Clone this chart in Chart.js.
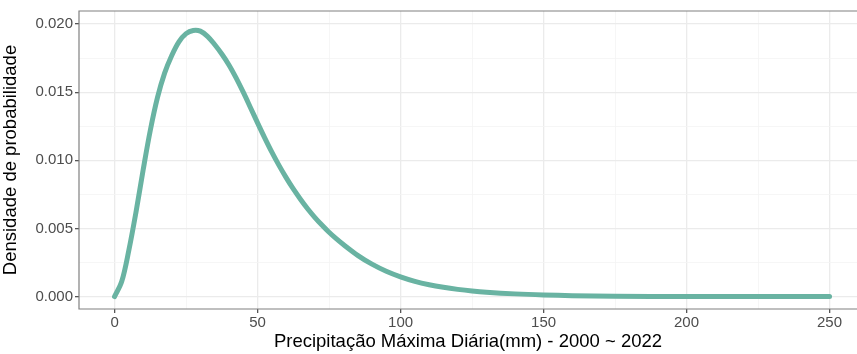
<!DOCTYPE html>
<html>
<head>
<meta charset="utf-8">
<script src="https://cdn.jsdelivr.net/npm/chart.js@4.4.0/dist/chart.umd.min.js"></script>
<style>
  html, body { margin: 0; padding: 0; background: #fff; }
  #wrap { width: 857px; height: 354px; }
</style>
</head>
<body>
<div id="wrap"><canvas id="densityChart"></canvas></div>
<script>
// precipitation (mm) and density
const precip = [0, 2.5, 5, 7.5, 10, 12.5, 15, 17.5, 20, 22.5, 25, 27.5, 30, 32.5, 35, 37.5, 40, 42.5, 45, 47.5,
  50, 52.5, 55, 57.5, 60, 62.5, 65, 67.5, 70, 72.5, 75, 77.5, 80, 85, 90, 95,
  100, 105, 110, 115, 120, 125, 130, 140, 150, 160, 175, 200, 225, 250];
const density = [0, 0.0011, 0.0034, 0.0062, 0.0093, 0.0122, 0.0146, 0.0164, 0.0177, 0.0187, 0.0193, 0.01953, 0.01948, 0.0191, 0.0185, 0.0178, 0.0170, 0.01605, 0.0150, 0.01388,
  0.01275, 0.01165, 0.0106, 0.00963, 0.00873, 0.0079, 0.00715, 0.00645, 0.00582, 0.00525, 0.00472, 0.00425, 0.00382, 0.00303, 0.00238, 0.00186,
  0.00145, 0.00112, 0.00087, 0.00068, 0.00053, 0.00041, 0.00032, 0.0002, 0.00012, 0.00007, 0.00003, 0.000005, 0.000001, 0];

const xTicks = [0, 50, 100, 150, 200, 250];
const xTickLabels = ["0", "50", "100", "150", "200", "250"];
const xMinor = [25, 75, 125, 175, 225];
const yTicks = [0, 0.005, 0.010, 0.015, 0.020];
const yTickLabels = ["0.000", "0.005", "0.010", "0.015", "0.020"];
const yMinor = [0.0025, 0.0075, 0.0125, 0.0175];

const xTitle = "Precipitação Máxima Diária(mm) - 2000 ~ 2022";
const yTitle = "Densidade de probabilidade";

const points = precip.map((x, i) => ({ x: x, y: density[i] }));

const isMajor = (list, v) => list.some(t => Math.abs(t - v) < 1e-9);

function gridColor(list) {
  return ctx => ctx.tick && isMajor(list, ctx.tick.value) ? "#ebebeb" : "#f4f4f4";
}
function gridWidth(list) {
  return ctx => ctx.tick && isMajor(list, ctx.tick.value) ? 1.3 : 0.8;
}
function tickColor(list) {
  return ctx => ctx.tick && isMajor(list, ctx.tick.value) ? "#555" : "rgba(0,0,0,0)";
}

// panel border like ggplot theme_bw (right edge is cut off in the picture)
const panelBorder = {
  id: "panelBorder",
  afterDraw(chart) {
    const a = chart.chartArea;
    const c = chart.ctx;
    c.save();
    c.strokeStyle = "#808080";
    c.lineWidth = 1.2;
    c.beginPath();
    c.moveTo(chart.width + 2, a.top);
    c.lineTo(a.left, a.top);
    c.lineTo(a.left, a.bottom);
    c.lineTo(chart.width + 2, a.bottom);
    c.stroke();
    c.restore();
  }
};

new Chart(document.getElementById("densityChart"), {
  type: "scatter",
  data: {
    datasets: [{
      data: points,
      showLine: true,
      borderColor: "#69b3a2",
      borderWidth: 5,
      pointRadius: 0,
      tension: 0.35,
      borderCapStyle: "round",
      borderJoinStyle: "round"
    }]
  },
  options: {
    responsive: true,
    maintainAspectRatio: false,
    animation: false,
    layout: { padding: { top: 9, right: 0, left: 0, bottom: 0 } },
    plugins: { legend: { display: false }, tooltip: { enabled: false } },
    scales: {
      x: {
        type: "linear",
        min: -12.43,
        max: 259.6,
        afterBuildTicks: s => { s.ticks = xTicks.concat(xMinor).sort((a, b) => a - b).map(v => ({ value: v })); },
        afterFit: s => { s.height = 45; },
        border: { display: false },
        grid: { color: gridColor(xTicks), lineWidth: gridWidth(xTicks), tickLength: 4, tickColor: tickColor(xTicks) },
        ticks: {
          autoSkip: false,
          maxRotation: 0,
          padding: 1,
          color: "#4d4d4d",
          font: { family: "'Liberation Sans', Arial, sans-serif", size: 15 },
          callback: v => { const i = xTicks.findIndex(t => Math.abs(t - v) < 1e-9); return i >= 0 ? xTickLabels[i] : ""; }
        },
        title: {
          display: true,
          text: xTitle,
          color: "#000",
          font: { family: "'Liberation Sans', Arial, sans-serif", size: 18.5 },
          padding: { top: 0, bottom: 1 }
        }
      },
      y: {
        min: -0.00091,
        max: 0.02096,
        afterBuildTicks: s => { s.ticks = yTicks.concat(yMinor).sort((a, b) => a - b).map(v => ({ value: v })); },
        afterFit: s => { s.width = 79; },
        border: { display: false },
        grid: { color: gridColor(yTicks), lineWidth: gridWidth(yTicks), tickLength: 4, tickColor: tickColor(yTicks) },
        ticks: {
          autoSkip: false,
          padding: 2,
          color: "#4d4d4d",
          font: { family: "'Liberation Sans', Arial, sans-serif", size: 15 },
          callback: v => { const i = yTicks.findIndex(t => Math.abs(t - v) < 1e-9); return i >= 0 ? yTickLabels[i] : ""; }
        },
        title: {
          display: true,
          text: yTitle,
          color: "#000",
          font: { family: "'Liberation Sans', Arial, sans-serif", size: 18.5 },
          padding: { top: 0, bottom: 0 }
        }
      }
    }
  },
  plugins: [panelBorder]
});
</script>
</body>
</html>
